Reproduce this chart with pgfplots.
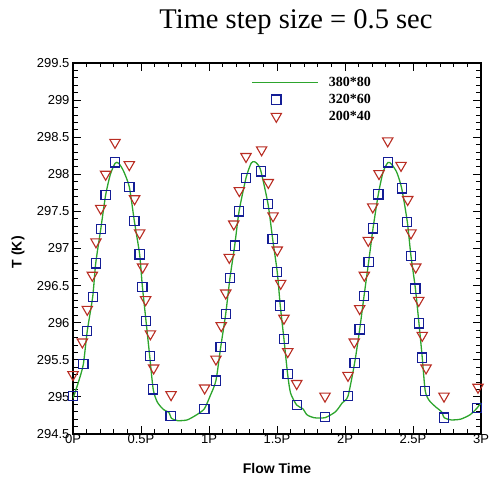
\documentclass[border=0pt]{standalone}
\usepackage{pgfplots}
\pgfplotsset{compat=1.18}
\usepackage{fontspec}
\setmainfont{Liberation Serif}
\setsansfont{Liberation Sans}
\definecolor{cgreen}{RGB}{45,165,45}
\definecolor{cblue}{RGB}{20,30,150}
\definecolor{cred}{RGB}{185,45,35}
\begin{document}
\begin{tikzpicture}
\useasboundingbox (-73pt,-50pt) rectangle (417pt,434pt);
\begin{axis}[
  at={(0,0)}, anchor=south west,
  scale only axis, width=408pt, height=371pt,
  xmin=0, xmax=3, ymin=294.5, ymax=299.5,
  xtick={0,0.5,1,1.5,2,2.5,3},
  xticklabels={0P,0.5P,1P,1.5P,2P,2.5P,3P},
  ytick={294.5,295,295.5,296,296.5,297,297.5,298,298.5,299,299.5},
  yticklabels={294.5,295,295.5,296,296.5,297,297.5,298,298.5,299,299.5},
  minor x tick num=4, minor y tick num=4,
  major tick length=8pt, minor tick length=4.5pt,
  tick align=inside,
  axis line style={line width=1.2pt},
  every tick/.style={black, line width=0.8pt},
  tick label style={font=\fontsize{13}{15}\selectfont\sffamily},
  /pgf/number format/assume math mode=true,
  xticklabel style={yshift=3pt},
  xlabel={\fontsize{14}{16}\selectfont\sffamily\bfseries Flow Time},
  ylabel={\fontsize{14}{16}\selectfont\sffamily\bfseries T (K)},
  xlabel style={at={(axis description cs:0.5,-0.092)}, anchor=center},
  ylabel style={at={(axis description cs:-0.135,0.49)}, anchor=center},
  legend style={at={(0.435,0.970)}, anchor=north west, draw=none, fill=none,
    font=\fontsize{14}{16}\selectfont\rmfamily\bfseries, row sep=2pt,
    inner sep=1pt, /tikz/every odd column/.append style={column sep=8pt}},
  legend cell align=left,
  legend image code/.code={\draw[mark repeat=2,mark phase=2,#1] plot coordinates {(0pt,0pt) (24pt,0pt) (66pt,0pt)};},
]
\addplot[cgreen, line width=1.3pt, smooth, tension=0.4, mark=none] coordinates {
(0,294.98)(0.04,295.2)(0.076,295.44)(0.105,295.89)(0.145,296.35)(0.167,296.80)(0.204,297.26)(0.240,297.72)(0.275,298.0)(0.31,298.15)(0.335,298.15)(0.37,298.05)(0.414,297.83)(0.451,297.37)(0.490,296.92)(0.510,296.49)(0.537,296.02)(0.564,295.55)(0.590,295.10)(0.62,294.93)(0.665,294.83)(0.705,294.79)(0.725,294.71)(0.77,294.68)(0.84,294.69)(0.91,294.76)(0.966,294.84)(1.01,295.02)(1.051,295.22)(1.086,295.67)(1.123,296.12)(1.154,296.60)(1.189,297.04)(1.221,297.50)(1.272,297.95)(1.31,298.15)(1.335,298.17)(1.36,298.13)(1.382,298.04)(1.434,297.60)(1.468,297.13)(1.502,296.68)(1.524,296.23)(1.551,295.78)(1.578,295.31)(1.60,295.05)(1.645,294.89)(1.69,294.84)(1.72,294.76)(1.77,294.72)(1.853,294.72)(1.93,294.80)(1.98,294.92)(2.022,295.01)(2.071,295.46)(2.108,295.91)(2.140,296.36)(2.174,296.82)(2.206,297.27)(2.245,297.73)(2.28,298.03)(2.316,298.16)(2.34,298.14)(2.38,298.03)(2.417,297.81)(2.458,297.36)(2.485,296.90)(2.517,296.47)(2.544,295.99)(2.568,295.53)(2.590,295.08)(2.62,294.95)(2.67,294.86)(2.71,294.80)(2.73,294.72)(2.78,294.69)(2.85,294.70)(2.92,294.76)(2.971,294.85)(3.0,294.92)
};
\addlegendentry{380*80}
\addplot[only marks, mark=square, mark size=4.6pt, cblue, mark options={line width=1.2pt}] coordinates {
(0,295.01)(0.076,295.44)(0.105,295.89)(0.145,296.35)(0.167,296.80)(0.204,297.26)(0.240,297.72)(0.309,298.16)(0.414,297.83)(0.451,297.37)(0.490,296.92)(0.510,296.48)(0.537,296.02)(0.564,295.55)(0.590,295.10)(0.718,294.74)(0.966,294.84)(1.051,295.22)(1.086,295.67)(1.123,296.12)(1.154,296.60)(1.189,297.04)(1.221,297.50)(1.272,297.95)(1.382,298.04)(1.434,297.60)(1.468,297.13)(1.502,296.68)(1.524,296.23)(1.551,295.78)(1.578,295.31)(1.645,294.89)(1.853,294.73)(2.022,295.01)(2.071,295.46)(2.108,295.91)(2.140,296.36)(2.174,296.82)(2.206,297.27)(2.245,297.73)(2.316,298.16)(2.417,297.81)(2.458,297.36)(2.485,296.90)(2.517,296.46)(2.544,295.99)(2.568,295.53)(2.590,295.08)(2.730,294.72)(2.971,294.85)
};
\addlegendentry{320*60}
\addplot[only marks, mark=triangle, mark size=6pt, cred, mark options={rotate=180, line width=1.1pt}] coordinates {
(0.0,295.30)(0.069,295.74)(0.105,296.18)(0.142,296.64)(0.169,297.09)(0.204,297.54)(0.240,298.00)(0.309,298.43)(0.414,298.13)(0.453,297.67)(0.490,297.21)(0.512,296.75)(0.534,296.31)(0.569,295.85)(0.593,295.39)(0.721,295.03)(0.968,295.12)(1.051,295.51)(1.090,295.96)(1.123,296.40)(1.149,296.88)(1.182,297.33)(1.223,297.78)(1.272,298.24)(1.387,298.33)(1.436,297.89)(1.471,297.44)(1.502,296.98)(1.527,296.53)(1.551,296.06)(1.579,295.61)(1.645,295.18)(1.853,295.01)(2.022,295.29)(2.068,295.74)(2.108,296.19)(2.142,296.64)(2.171,297.11)(2.204,297.56)(2.250,298.01)(2.314,298.45)(2.412,298.12)(2.461,297.66)(2.485,297.21)(2.520,296.75)(2.542,296.30)(2.568,295.83)(2.596,295.39)(2.728,295.01)(2.978,295.13)
};
\addlegendentry{200*40}
\end{axis}
\node[font=\fontsize{28.5}{31}\selectfont\rmfamily] at (223pt,412pt) {Time step size = 0.5 sec};
\end{tikzpicture}
\end{document}
